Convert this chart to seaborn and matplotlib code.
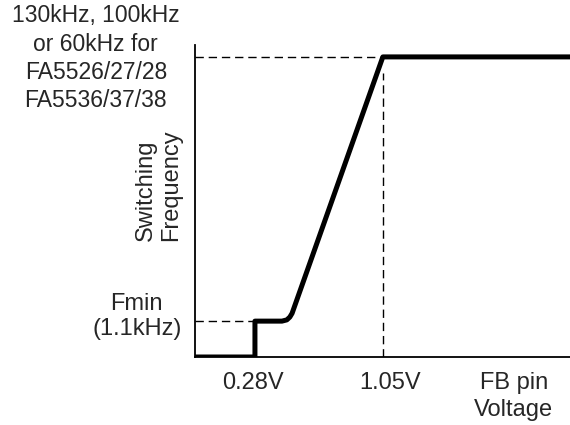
#! /usr/bin/env python3
'''
Switching frequency vs FB pin voltage (schematic characteristic)
'''
import matplotlib.pyplot as plt
import pandas as pd
import seaborn as sns

# data (normalised axis units: x 0..1, y 0..1)
fb_voltage = [0.0, 0.16, 0.16, 0.232, 0.245, 0.253, 0.259, 0.501, 1.0]
switch_freq = [0.0, 0.0, 0.115, 0.115, 0.119, 0.128, 0.140, 0.962, 0.962]
x_ticks = [0.155, 0.52, 0.85]
x_labels = ["0.28V", "1.05V", "FB pin\nVoltage"]
fmin_level = 0.115
fmax_level = 0.962
fmax_volt = 0.501
fmin_volt = 0.16
top_label = "130kHz, 100kHz\nor 60kHz for\nFA5526/27/28\nFA5536/37/38"
fmin_label = "Fmin\n(1.1kHz)"
y_title = "Switching\nFrequency"

# settings
sns.set_style("white")
plt.rcParams['font.family'] = ['Liberation Sans', 'DejaVu Sans']

df = pd.DataFrame({'v': fb_voltage, 'f': switch_freq})

fig = plt.figure(figsize=(5.7, 4.25), dpi=100)
ax = fig.add_axes([0.342, 0.16, 0.658, 0.734])

# dashed guide lines
dash = (0, (6, 3.5))
ax.plot([0, fmax_volt], [fmax_level, fmax_level], color='black', lw=1, ls=dash)
ax.plot([fmax_volt, fmax_volt], [0, fmax_level - 0.05], color='black', lw=1, ls=dash)
ax.plot([0, fmin_volt], [fmin_level, fmin_level], color='black', lw=1, ls=dash)

# characteristic
sns.lineplot(data=df, x='v', y='f', sort=False, estimator=None, color='black', lw=3.6,
             ax=ax, solid_joinstyle='round', solid_capstyle='butt')

ax.set_xlim(0, 1)
ax.set_ylim(0, 1)
ax.set_xticks(x_ticks)
ax.set_xticklabels(x_labels, fontsize=17, va='top', linespacing=1.25)
ax.set_yticks([])
ax.tick_params(axis='x', length=0, pad=11)
ax.set_xlabel("")
ax.set_ylabel("")
for s in ['top', 'right']:
    ax.spines[s].set_visible(False)
for s in ['left', 'bottom']:
    ax.spines[s].set_color('black')
    ax.spines[s].set_linewidth(1.3)

# y-side annotations
fig.text(0.168, 0.99, top_label, ha='center', va='top', fontsize=16.5, linespacing=1.3)
fig.text(0.24, 0.255, fmin_label, ha='center', va='center', fontsize=17, linespacing=1.2)
fig.text(0.278, 0.565, y_title, ha='center', va='center', fontsize=17,
         rotation=90, linespacing=1.2, multialignment='left')

fig.savefig('out.png', dpi=100)
plt.close()
